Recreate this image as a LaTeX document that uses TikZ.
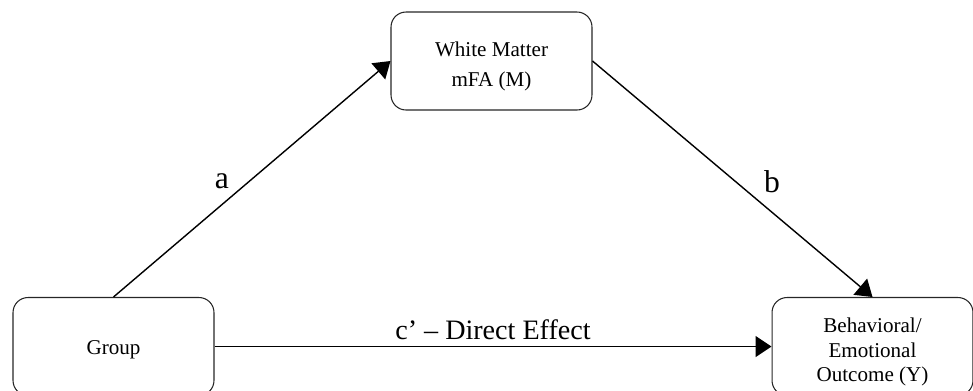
\documentclass[tikz,border=0pt]{standalone}
\usepackage{fontspec}
\setmainfont{Liberation Serif}
\usetikzlibrary{arrows.meta}

\begin{document}
\begin{tikzpicture}[x=0.02cm,y=-0.02cm,
   box/.style={draw=black!85,line width=0.6pt,rounded corners=0.3cm,
      minimum width=4.02cm,minimum height=1.96cm,align=center,
      font=\fontsize{12}{13.9}\selectfont,text depth=0pt},
   link/.style={-{Triangle[length=0.32cm,width=0.42cm]},line width=0.8pt},
   lbl/.style={font=\fontsize{18}{20}\selectfont}]
   \useasboundingbox (0,0) rectangle (973,390);
   % Boxes
   \node[box,font=\fontsize{12}{17}\selectfont,text height=29.4pt] (wm) at (491.5,61) {White Matter\\mFA (M)};
   \node[box,text height=9.6pt] (grp) at (113.5,346.5) {Group};
   \node[box,text height=40pt] (out) at (872.5,346.5) {Behavioral/\\Emotional\\Outcome (Y)};
   % Paths
   \draw[link] (grp.north) -- (wm.west);
   \draw[link] (wm.east) -- (out.north);
   \draw[link] (grp.east) -- node[above,font=\fontsize{16}{18}\selectfont] (lc) {c’ – Direct Effect} (out.west);
   % Labels
   \node[lbl] (la) at (222,181) {a};
   \node[lbl] (lb) at (772,182) {b};
\end{tikzpicture}
\end{document}
